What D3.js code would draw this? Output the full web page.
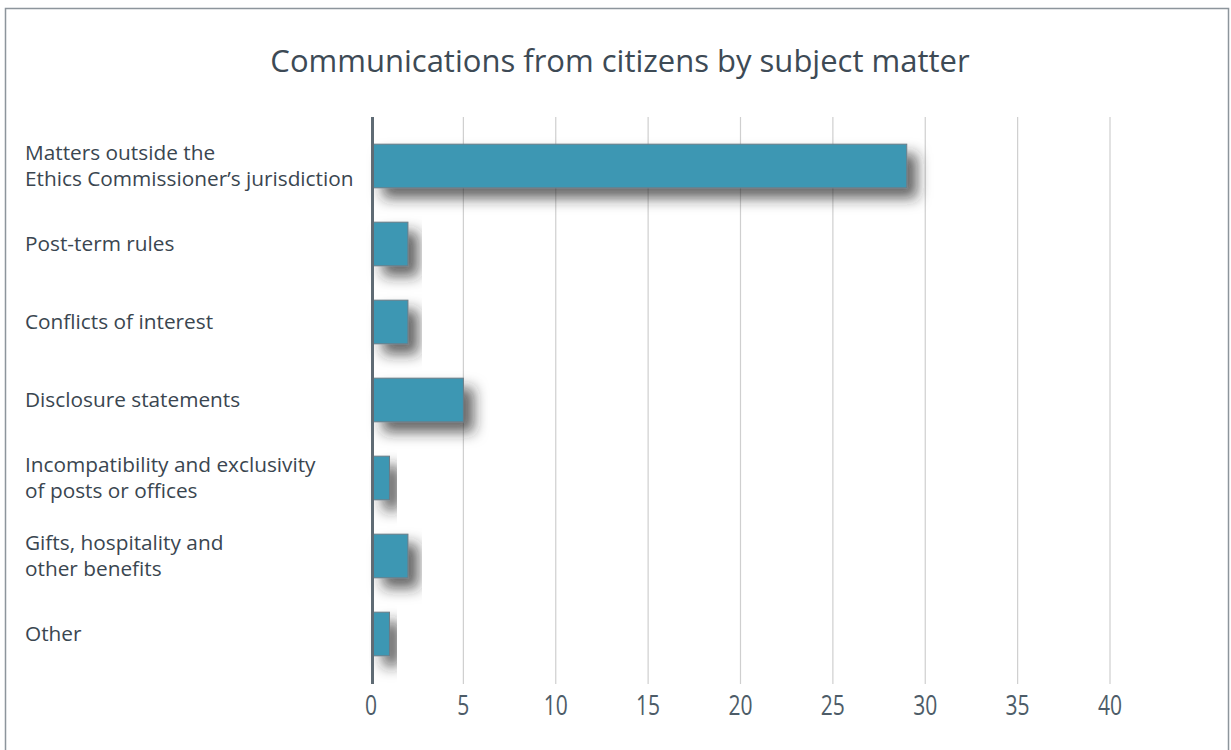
<!DOCTYPE html>
<html>
<head>
<meta charset="utf-8">
<script src="https://cdn.jsdelivr.net/npm/d3@7"></script>
<style>
  body { margin: 0; background: #fff; }
  svg { display: block; }
  .cat-label { font-family: "Open Sans", sans-serif; font-size: 20.8px; fill: #3a4650; }
  .tick-label { font-family: "Open Sans", sans-serif; font-size: 27px; fill: #4d5c68; }
  .title { font-family: "Open Sans", sans-serif; font-size: 31px; fill: #3d4a55; }
</style>
</head>
<body>
<div id="chart"></div>
<script>
// chart data
const categories = [
    ["Matters outside the", "Ethics Commissioner\u2019s jurisdiction"],
    ["Post-term rules"],
    ["Conflicts of interest"],
    ["Disclosure statements"],
    ["Incompatibility and exclusivity", "of posts or offices"],
    ["Gifts, hospitality and", "other benefits"],
    ["Other"]
];
const values = [29, 2, 2, 5, 1, 2, 1];
const xTicks = [0, 5, 10, 15, 20, 25, 30, 35, 40];
const titleText = "Communications from citizens by subject matter";

const width = 1231, height = 750;

const svg = d3.select("#chart").append("svg")
    .attr("width", width)
    .attr("height", height);

const defs = svg.append("defs");
defs.append("filter")
    .attr("id", "barShadow")
    .attr("x", "-20%").attr("y", "-40%")
    .attr("width", "160%").attr("height", "220%")
    .append("feDropShadow")
    .attr("dx", 10).attr("dy", 10)
    .attr("stdDeviation", 7)
    .attr("flood-color", "#222")
    .attr("flood-opacity", 0.7);
defs.append("filter")
    .attr("id", "axisShadow")
    .attr("x", "-5%").attr("y", "-500%")
    .attr("width", "110%").attr("height", "1100%")
    .append("feDropShadow")
    .attr("dx", 6).attr("dy", 10)
    .attr("stdDeviation", 6)
    .attr("flood-color", "#888")
    .attr("flood-opacity", 0.35);

// frame
svg.append("rect")
    .attr("x", 5.5).attr("y", 8.5)
    .attr("width", width - 8).attr("height", height)
    .attr("fill", "none")
    .attr("stroke", "#8d959c")
    .attr("stroke-width", 1.5);

svg.append("text")
    .attr("class", "title")
    .attr("x", 620).attr("y", 72)
    .attr("text-anchor", "middle")
    .text(titleText);

const x = d3.scaleLinear().domain([0, 40]).range([371, 1110]);
const y = d3.scaleBand()
    .domain(d3.range(categories.length))
    .range([127, 673])
    .paddingInner(0.44)
    .paddingOuter(0.22);

const plotTop = 117, plotBottom = 684;

// gridlines
svg.append("g").selectAll("line")
    .data(xTicks.slice(1))
    .join("line")
    .attr("x1", d => x(d)).attr("x2", d => x(d))
    .attr("y1", plotTop).attr("y2", plotBottom)
    .attr("stroke", "#cfcfcf")
    .attr("stroke-width", 1.2);

// bars
svg.append("g").selectAll("rect")
    .data(values)
    .join("rect")
    .attr("x", x(0) + 2)
    .attr("y", (d, i) => y(i))
    .attr("width", d => x(d) - x(0) - 2)
    .attr("height", y.bandwidth())
    .attr("fill", "#3e97b3")
    .attr("stroke", "#6d7c86")
    .attr("stroke-width", 1)
    .attr("filter", "url(#barShadow)");

// axes
svg.append("line")
    .attr("x1", x(0) - 1).attr("x2", 1142)
    .attr("y1", plotBottom).attr("y2", plotBottom)
    .attr("stroke", "#5f6b74")
    .attr("stroke-width", 3)
    .attr("filter", "url(#axisShadow)");
svg.append("line")
    .attr("x1", x(0) + 1.5).attr("x2", x(0) + 1.5)
    .attr("y1", plotTop).attr("y2", plotBottom)
    .attr("stroke", "#5f6b74")
    .attr("stroke-width", 3);

// tick labels (condensed look)
svg.append("g").selectAll("text")
    .data(xTicks)
    .join("text")
    .attr("class", "tick-label")
    .attr("transform", d => `translate(${x(d)},715) scale(0.78,1)`)
    .attr("text-anchor", "middle")
    .text(d => d);

// category labels
const lineH = 26;
const lab = svg.append("g").selectAll("text")
    .data(categories)
    .join("text")
    .attr("class", "cat-label")
    .attr("x", 25)
    .attr("y", (d, i) => y(i) + y.bandwidth() / 2 + 7 - (d.length - 1) * lineH / 2);
lab.selectAll("tspan")
    .data(d => d)
    .join("tspan")
    .attr("x", 25)
    .attr("dy", (d, j) => j === 0 ? 0 : lineH)
    .text(d => d);
</script>
</body>
</html>
